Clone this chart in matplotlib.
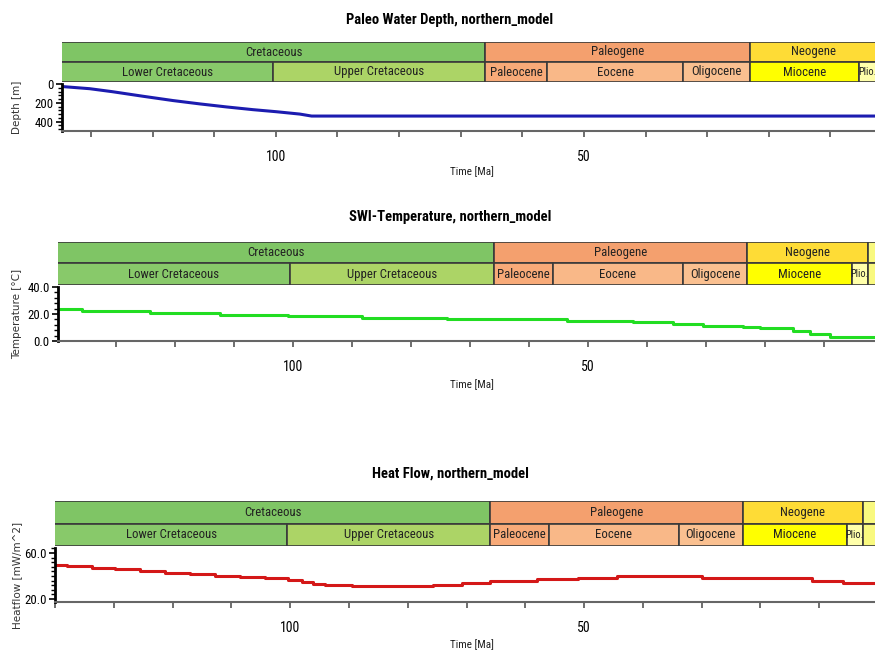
import matplotlib.pyplot as plt
from matplotlib.patches import Rectangle
from matplotlib.ticker import MultipleLocator, FixedLocator

NARROW = ['Liberation Sans Narrow', 'Arial Narrow', 'DejaVu Sans Condensed',
          'Roboto Condensed', 'Liberation Sans']

# geologic time scale (Ma)
period_labels = ['Cretaceous', 'Paleogene', 'Neogene', '']
period_start = [145.0, 66.0, 23.03, 2.58]
period_end = [66.0, 23.03, 2.58, 0.0]
period_colors = ['#7fc565', '#f4a06e', '#fedc36', '#f9f97f']

epoch_labels = ['Lower Cretaceous', 'Upper Cretaceous', 'Paleocene', 'Eocene',
                'Oligocene', 'Miocene', 'Plio.', '']
epoch_start = [145.0, 100.5, 66.0, 56.0, 33.9, 23.03, 5.33, 2.58]
epoch_end = [100.5, 66.0, 56.0, 33.9, 23.03, 5.33, 2.58, 0.0]
epoch_colors = ['#88c96a', '#acd466', '#f8aa78', '#f9b888', '#fac090',
                '#ffff00', '#ffffaa', '#f9f97f']

# paleo water depth [m]
depth_time = [134.5, 130.2, 126.5, 121.6, 116.7, 112.3, 108.0, 103.7, 99.9, 96.1, 94.2, 0.0]
depth_val = [28, 50, 82, 130, 176, 212, 244, 273, 295, 320, 341, 341]

# sediment-water interface temperature [°C]
temp_time = [139.8, 135.8, 124.2, 112.4, 100.8, 88.3, 73.9, 53.6, 42.4, 35.6,
             30.5, 23.7, 20.8, 15.3, 12.4, 9.0, 0.0]
temp_val = [23.9, 21.9, 20.6, 19.4, 18.4, 17.2, 16.4, 15.1, 13.8, 12.6,
            11.3, 10.6, 9.3, 7.5, 5.0, 3.0, 3.0]

# heat flow [mW/m^2]
hf_time = [140.0, 137.9, 133.7, 129.8, 125.5, 121.3, 117.0, 112.8, 108.5, 104.3,
           100.3, 98.0, 96.1, 94.0, 89.5, 75.7, 70.7, 66.0, 58.0, 51.0,
           44.4, 29.9, 11.2, 6.0, 0.0]
hf_val = [49.6, 48.7, 47.0, 45.8, 44.3, 42.9, 41.5, 40.0, 38.8, 38.0,
          36.5, 34.8, 33.0, 31.9, 31.3, 32.5, 33.6, 36.0, 37.4, 38.6,
          40.0, 38.6, 36.0, 34.2, 34.2]

W, H = 875, 658
fig = plt.figure(figsize=(W / 100, H / 100), dpi=100)


def px_axes(l, t, r, b):
    return fig.add_axes([l / W, 1 - b / H, (r - l) / W, (b - t) / H])


def time_bars(ax, tmax):
    ax.set_xlim(tmax, 0)
    ax.set_ylim(0, 2)
    ax.axis('off')
    rows = [(1, period_labels, period_start, period_end, period_colors),
            (0, epoch_labels, epoch_start, epoch_end, epoch_colors)]
    for y0, labels, starts, ends, colors in rows:
        for lab, s, e, c in zip(labels, starts, ends, colors):
            ax.add_patch(Rectangle((e, y0), s - e, 1, facecolor=c,
                                   edgecolor='#3a3a3a', linewidth=1.2))
            if lab:
                mid = (min(s, tmax) + e) / 2
                fs = 7.5 if lab == 'Plio.' else 9.2
                ax.text(mid, y0 + 0.5, lab, ha='center', va='center',
                        fontsize=fs, family=NARROW, color='#222222', clip_on=True)


def panel(cfg, times, vals, color, title, ylabel, steps=True):
    l, r, top, bot, bar_top, title_y, xl_y, tmax = cfg
    bars = px_axes(l, bar_top, r, top - 2)
    time_bars(bars, tmax)

    ax = px_axes(l, top, r, bot)
    if steps:
        ax.step(times, vals, where='post', color=color, linewidth=2.2)
    else:
        ax.plot(times, vals, color=color, linewidth=2.2)
    ax.set_xlim(tmax, 0)
    for s in ['top', 'right']:
        ax.spines[s].set_visible(False)
    ax.spines['left'].set_linewidth(2)
    ax.spines['left'].set_color('black')
    ax.spines['bottom'].set_color('#666666')
    ax.spines['bottom'].set_linewidth(1.5)
    ax.xaxis.set_major_locator(FixedLocator([100, 50]))
    ax.xaxis.set_minor_locator(MultipleLocator(10))
    ax.tick_params(axis='x', which='both', length=4, width=1.2, color='#555555',
                   pad=10, labelsize=10)
    ax.tick_params(axis='y', which='major', length=4, width=1.2, pad=2, labelsize=9.2)
    ax.tick_params(axis='y', which='minor', length=3, width=1)
    fig.text(450 / W, 1 - title_y / H, title, ha='center', va='center',
             fontsize=10.5, fontweight='bold', family=NARROW)
    fig.text(472 / W, 1 - xl_y / H, 'Time [Ma]', ha='center', va='center',
             fontsize=8, family=NARROW, color='#222222')
    fig.text(17 / W, 1 - (top + bot) / 2 / H, ylabel, rotation=90, ha='center',
             va='center', fontsize=7.5, color='#333333')
    return ax


# layout: left, right(0 Ma), plot top, plot bottom, bar top, title y, xlabel y, start time
ax1 = panel((62, 892, 84, 131, 42, 20, 172, 134.7), depth_time, depth_val,
            '#1c1cb0', 'Paleo Water Depth, northern_model', 'Depth [m]', steps=False)
ax1.set_ylim(500, 0)
ax1.yaxis.set_major_locator(FixedLocator([0, 200, 400]))
ax1.yaxis.set_minor_locator(MultipleLocator(40))

ax2 = panel((58, 883, 287, 341, 242, 217, 385, 139.8), temp_time, temp_val,
            '#22dd22', 'SWI-Temperature, northern_model', 'Temperature [°C]')
ax2.set_ylim(0, 40)
ax2.yaxis.set_major_locator(FixedLocator([0, 20, 40]))
ax2.yaxis.set_minor_locator(MultipleLocator(4))
ax2.yaxis.set_major_formatter('{x:.1f}')

ax3 = panel((55, 878, 548, 602, 501, 474, 645, 140.0), hf_time, hf_val,
            '#d41818', 'Heat Flow, northern_model', 'Heatflow [mW/m^2]')
ax3.set_ylim(17.4, 64.3)
ax3.yaxis.set_major_locator(FixedLocator([20, 60]))
ax3.yaxis.set_minor_locator(MultipleLocator(4))
ax3.yaxis.set_major_formatter('{x:.1f}')

for a in (ax1, ax2, ax3):
    for lab in a.get_xticklabels() + a.get_yticklabels():
        lab.set_family(NARROW)

fig.savefig('out.png', dpi=100)
